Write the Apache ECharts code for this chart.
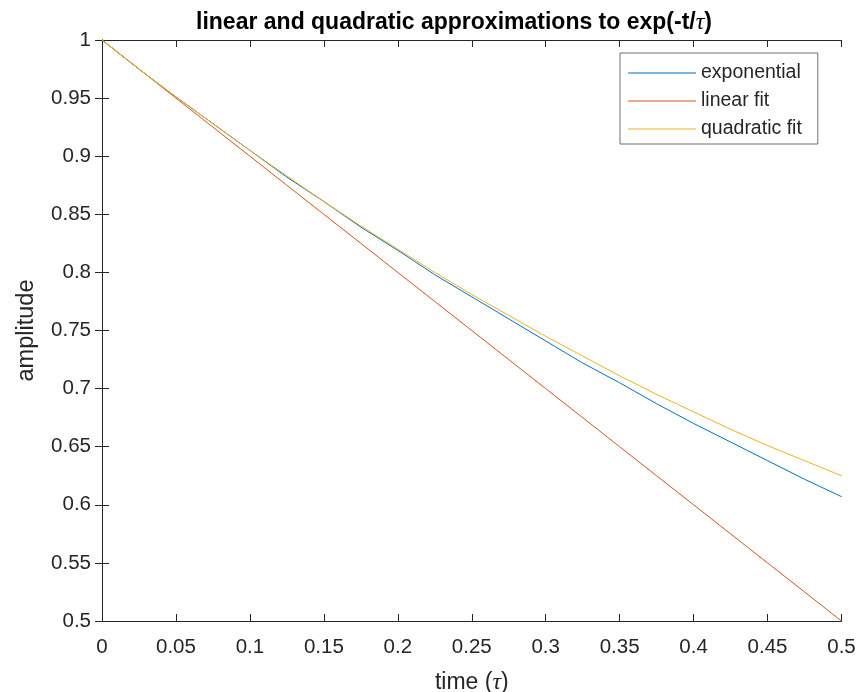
<!DOCTYPE html>
<html>
<head>
<meta charset="utf-8">
<script src="https://cdn.jsdelivr.net/npm/echarts@6/dist/echarts.min.js"></script>
<style>
  html, body { margin: 0; padding: 0; background: #fff; }
  #chart { width: 858px; height: 692px; }
</style>
</head>
<body>
<div id="chart"></div>
<script>
// time in units of tau
const times = [0, 0.025, 0.05, 0.075, 0.1, 0.125, 0.15, 0.175, 0.2, 0.225, 0.25,
  0.275, 0.3, 0.325, 0.35, 0.375, 0.4, 0.425, 0.45, 0.475, 0.5];
const exponential = [1, 0.975, 0.951, 0.928, 0.905, 0.882, 0.861, 0.839, 0.819, 0.798, 0.779,
  0.760, 0.741, 0.722, 0.705, 0.687, 0.670, 0.654, 0.638, 0.622, 0.607];
const linearFit = [1, 0.975, 0.95, 0.925, 0.9, 0.875, 0.85, 0.825, 0.8, 0.775, 0.75,
  0.725, 0.7, 0.675, 0.65, 0.625, 0.6, 0.575, 0.55, 0.525, 0.5];
const quadraticFit = [1, 0.975, 0.951, 0.928, 0.905, 0.883, 0.861, 0.840, 0.82, 0.800, 0.781,
  0.763, 0.745, 0.728, 0.711, 0.695, 0.68, 0.665, 0.651, 0.638, 0.625];
const seriesNames = ['exponential', 'linear fit', 'quadratic fit'];
const colors = ['#0072BD', '#D95319', '#EDB120'];

const font = "'Liberation Sans', Arial, Helvetica, sans-serif";
const serif = "'Liberation Serif', 'DejaVu Serif', serif";
const ink = '#262626';

function pairs(ys) {
  return times.map((t, i) => [t, ys[i]]);
}

const chart = echarts.init(document.getElementById('chart'));

const axisCommon = {
  type: 'value',
  interval: 0.05,
  axisLine: { show: true, lineStyle: { color: ink, width: 1 } },
  axisTick: { show: true, inside: true, length: 7, lineStyle: { color: ink, width: 1 } },
  splitLine: { show: false }
};

chart.setOption({
  animation: false,
  color: colors,
  title: {
    text: 'linear and quadratic approximations to exp(-t/{i|τ})',
    left: 449,
    top: 6,
    textAlign: 'center',
    textStyle: {
      fontFamily: font,
      fontSize: 23,
      fontWeight: 'bold',
      color: '#000',
      rich: {
        i: { fontFamily: serif, fontStyle: 'italic', fontSize: 24, fontWeight: 'normal', color: '#000' }
      }
    }
  },
  grid: { left: 102, right: 16.5, top: 40, bottom: 71, containLabel: false, outerBoundsMode: 'none' },
  legend: {
    orient: 'vertical',
    left: 620,
    top: 53,
    padding: [10, 16, 5, 8],
    itemWidth: 68,
    itemHeight: 1,
    itemGap: 8,
    borderColor: '#6e6e6e',
    borderWidth: 1,
    backgroundColor: '#fff',
    data: seriesNames.map((n, i) => ({ name: n, icon: 'rect', itemStyle: { color: colors[i] } })),
    textStyle: { fontFamily: font, fontSize: 19.5, lineHeight: 20, color: ink }
  },
  xAxis: [
    Object.assign({}, axisCommon, {
      min: 0, max: 0.5,
      name: 'time ({i|τ})',
      nameLocation: 'middle',
      nameGap: 50,
      nameTextStyle: {
        fontFamily: font, fontSize: 23, color: ink,
        rich: { i: { fontFamily: serif, fontStyle: 'italic', fontSize: 24, color: ink } }
      },
      axisLabel: { margin: 16, fontFamily: font, fontSize: 20.5, color: ink }
    }),
    Object.assign({}, axisCommon, {
      min: 0, max: 0.5, position: 'top',
      axisLabel: { show: false }
    })
  ],
  yAxis: [
    Object.assign({}, axisCommon, {
      min: 0.5, max: 1,
      name: 'amplitude',
      nameLocation: 'middle',
      nameGap: 63,
      nameTextStyle: { fontFamily: font, fontSize: 23.5, color: ink },
      axisLabel: { margin: 11, fontFamily: font, fontSize: 20.5, color: ink }
    }),
    Object.assign({}, axisCommon, {
      min: 0.5, max: 1, position: 'right',
      axisLabel: { show: false }
    })
  ],
  series: [
    { name: seriesNames[0], type: 'line', data: pairs(exponential) },
    { name: seriesNames[1], type: 'line', data: pairs(linearFit) },
    { name: seriesNames[2], type: 'line', data: pairs(quadraticFit) }
  ].map(s => Object.assign(s, {
    symbol: 'none',
    smooth: false,
    lineStyle: { width: 1 },
    xAxisIndex: 0,
    yAxisIndex: 0
  }))
});
</script>
</body>
</html>
